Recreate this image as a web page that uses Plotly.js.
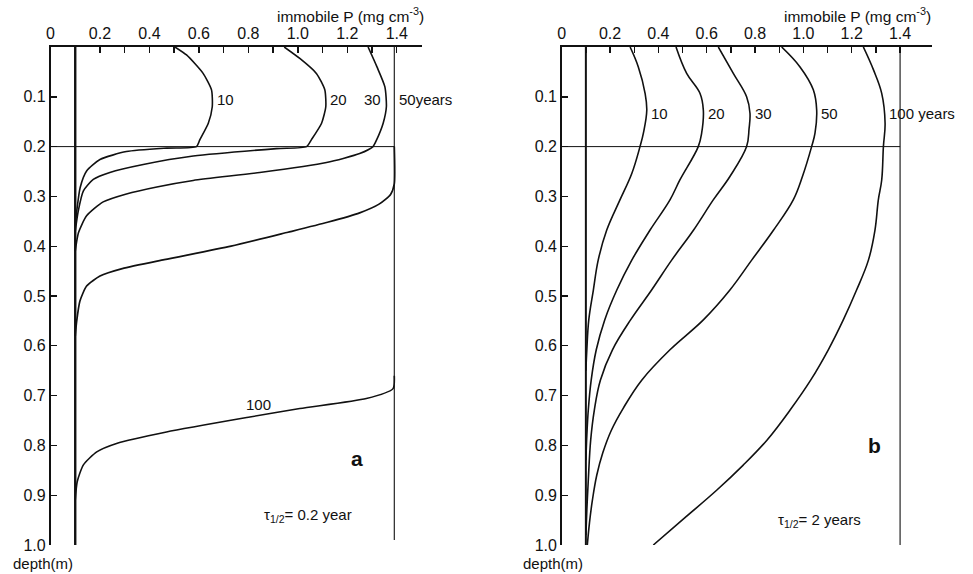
<!DOCTYPE html>
<html><head><meta charset="utf-8">
<script src="https://cdn.plot.ly/plotly-3.0.1.min.js"></script>
<style>html,body{margin:0;padding:0;background:#fff}#chart{width:973px;height:574px}</style>
</head><body><div id="chart"></div>
<script>
// ---- axis ticks ----
const xTickVals = [0,0.2,0.4,0.6,0.8,1.0,1.2,1.4];
const xTickText = ['0','0.2','0.4','0.6','0.8','1.0','1.2','1.4'];
const xMinorVals = [0.1,0.3,0.5,0.7,0.9,1.1,1.3];
const yTickVals = [0.1,0.2,0.3,0.4,0.5,0.6,0.7,0.8,0.9,1.0];
const yTickText = ['0.1','0.2','0.3','0.4','0.5','0.6','0.7','0.8','0.9','1.0'];

// ---- reference levels ----
const pInitial = 0.1;      // background immobile P
const pMaxA = 1.39;        // saturation, panel a
const pMaxB = 1.40;        // saturation, panel b
const plowDepth = 0.2;     // plough layer depth (m)

// ---- panel a : tau1/2 = 0.2 year ----
const a10P = [0.503,0.55,0.617,0.651,0.654,0.638,0.604,0.59,0.47,0.307,0.2,0.146,0.12,0.106,0.1];
const a10D = [0,0.016,0.053,0.086,0.12,0.153,0.186,0.2,0.203,0.21,0.226,0.249,0.282,0.33,0.36];
const a20P = [0.945,1.008,1.075,1.109,1.113,1.096,1.055,1.035,0.914,0.577,0.375,0.24,0.173,0.133,0.112,0.1];
const a20D = [0,0.023,0.053,0.086,0.12,0.153,0.186,0.2,0.204,0.219,0.236,0.252,0.266,0.289,0.33,0.37];
const a30P = [1.284,1.32,1.352,1.358,1.345,1.318,1.304,1.25,1.116,0.846,0.577,0.43,0.307,0.213,0.146,0.113,0.1];
const a30D = [0,0.04,0.08,0.12,0.153,0.187,0.2,0.214,0.232,0.252,0.268,0.281,0.295,0.311,0.339,0.373,0.41];
const a50P = [1.39,1.39,1.375,1.33,1.25,1.12,0.96,0.73,0.46,0.29,0.2,0.146,0.119,0.106,0.1];
const a50D = [0.2,0.275,0.296,0.315,0.333,0.352,0.372,0.4,0.427,0.445,0.46,0.48,0.51,0.55,0.58];
const a100P = [1.39,1.385,1.277,1.008,0.806,0.469,0.267,0.187,0.133,0.108,0.1];
const a100D = [0.66,0.686,0.706,0.726,0.743,0.773,0.796,0.813,0.839,0.873,0.91];

// ---- panel b : tau1/2 = 2 years ----
const b10P = [0.283,0.317,0.345,0.352,0.338,0.324,0.29,0.241,0.186,0.151,0.131,0.112,0.104,0.1];
const b10D = [0,0.04,0.093,0.127,0.173,0.2,0.254,0.307,0.368,0.428,0.488,0.548,0.608,0.65];
const b20P = [0.473,0.517,0.572,0.586,0.579,0.565,0.489,0.448,0.365,0.29,0.228,0.178,0.143,0.122,0.11,0.104,0.1];
const b20D = [0,0.053,0.093,0.127,0.173,0.2,0.267,0.307,0.368,0.428,0.488,0.548,0.608,0.669,0.729,0.78,0.83];
const b30P = [0.648,0.71,0.765,0.779,0.775,0.765,0.696,0.627,0.545,0.455,0.372,0.285,0.21,0.16,0.135,0.12,0.11,0.104,0.1];
const b30D = [0,0.053,0.1,0.133,0.165,0.2,0.26,0.307,0.368,0.428,0.488,0.548,0.608,0.669,0.729,0.789,0.87,0.93,0.98];
const b50P = [0.91,0.986,1.041,1.055,1.048,1.034,0.996,0.958,0.876,0.786,0.696,0.586,0.448,0.331,0.255,0.205,0.17,0.145,0.127,0.115,0.106];
const b50D = [0,0.04,0.086,0.127,0.173,0.2,0.26,0.307,0.368,0.428,0.488,0.548,0.608,0.669,0.725,0.77,0.815,0.86,0.91,0.955,1.0];
const b100P = [1.248,1.29,1.324,1.338,1.331,1.324,1.31,1.296,1.269,1.22,1.165,1.103,1.03,0.945,0.85,0.75,0.641,0.51,0.379];
const b100D = [0,0.046,0.093,0.153,0.2,0.267,0.307,0.368,0.428,0.488,0.548,0.608,0.669,0.729,0.789,0.84,0.89,0.945,1.0];

const INK = '#111';
const FONT = 'Liberation Sans, Arial, sans-serif';

function curve(x, y, xa, ya, w, sm) {
  return {x: x, y: y, xaxis: xa, yaxis: ya, mode: 'lines', type: 'scatter',
    line: {color: INK, width: w, shape: 'spline', smoothing: sm}, hoverinfo: 'skip', showlegend: false};
}
function straight(x, y, xa, ya, w) {
  return {x: x, y: y, xaxis: xa, yaxis: ya, mode: 'lines', type: 'scatter',
    line: {color: INK, width: w}, hoverinfo: 'skip', showlegend: false};
}

const traces = [
  // panel a frame lines
  straight([pInitial,pInitial],[0,1],'x','y',2.4),
  straight([pMaxA,pMaxA],[0,0.99],'x','y',1.1),
  straight([0,pMaxA],[plowDepth,plowDepth],'x','y',1),
  curve(a10P,a10D,'x','y',1.6,0.6),
  curve(a20P,a20D,'x','y',1.6,0.6),
  curve(a30P,a30D,'x','y',1.6,0.6),
  curve(a50P,a50D,'x','y',1.7,0.6),
  curve(a100P,a100D,'x','y',1.6,0.6),
  // panel b frame lines
  straight([pInitial,pInitial],[0,1],'x2','y2',2),
  straight([pMaxB,pMaxB],[0,1],'x2','y2',1.1),
  straight([0,pMaxB],[plowDepth,plowDepth],'x2','y2',1),
  curve(b10P,b10D,'x2','y2',1.6,1.1),
  curve(b20P,b20D,'x2','y2',1.6,1.1),
  curve(b30P,b30D,'x2','y2',1.6,1.1),
  curve(b50P,b50D,'x2','y2',1.6,1.1),
  curve(b100P,b100D,'x2','y2',1.6,1.1)
];

function xAxis(domain, range, anchor) {
  return {domain: domain, range: range, anchor: anchor, side: 'top', showline: true, linecolor: INK, linewidth: 1.6,
    showgrid: false, zeroline: false, ticks: 'inside', ticklen: 6, tickwidth: 1.4, tickcolor: INK,
    tickmode: 'array', tickvals: xTickVals, ticktext: xTickText, tickfont: {family: FONT, size: 16, color: INK},
    minor: {tickmode: 'array', tickvals: xMinorVals, ticks: 'inside', ticklen: 6, tickwidth: 1.4, tickcolor: INK, showgrid: false},
    fixedrange: true};
}
function yAxis(anchor) {
  return {domain: [1 - 545/574, 1 - 47/574], range: [1.0, 0], anchor: anchor, showline: true, linecolor: INK, linewidth: 1.6,
    showgrid: false, zeroline: false, ticks: 'inside', ticklen: 6, tickwidth: 1.4, tickcolor: INK,
    tickmode: 'array', tickvals: yTickVals, ticktext: yTickText, tickfont: {family: FONT, size: 16, color: INK},
    fixedrange: true};
}

function ann(text, xr, yr, x, y, xanchor, size, bold) {
  return {text: bold ? '<b>' + text + '</b>' : text, xref: xr, yref: yr, x: x, y: y, xanchor: xanchor, yanchor: 'middle',
    showarrow: false, font: {family: FONT, size: size, color: INK}};
}

const annotations = [
  // panel a
  ann('immobile P (mg cm<sup>-3</sup>)','paper','paper',426/973,1 - 15/574,'right',15.5),
  ann('10','x','y',0.665,0.106,'left',15),
  ann('20','x','y',1.122,0.106,'left',15),
  ann('30','x','y',1.345,0.106,'right',15),
  ann('50years','x','y',1.40,0.106,'left',15),
  ann('100','x','y',0.84,0.718,'center',15),
  ann('a','x','y',1.24,0.826,'center',21,true),
  ann('τ<sub>1/2</sub>= 0.2 year','x','y',1.04,0.94,'center',15),
  ann('depth(m)','paper','paper',43/973,1 - 563/574,'center',15),
  // panel b
  ann('immobile P (mg cm<sup>-3</sup>)','paper','paper',933/973,1 - 15/574,'right',15.5),
  ann('10','x2','y2',0.362,0.133,'left',15),
  ann('20','x2','y2',0.595,0.133,'left',15),
  ann('30','x2','y2',0.79,0.133,'left',15),
  ann('50','x2','y2',1.065,0.133,'left',15),
  ann('100 years','x2','y2',1.345,0.133,'left',15),
  ann('b','x2','y2',1.296,0.8,'center',21,true),
  ann('τ<sub>1/2</sub>= 2 years','x2','y2',1.065,0.95,'center',15),
  ann('depth(m)','paper','paper',553/973,1 - 563/574,'center',15)
];

const layout = {
  width: 973, height: 574, autosize: false,
  margin: {l: 0, r: 0, t: 0, b: 0, pad: 0},
  paper_bgcolor: '#fff', plot_bgcolor: '#fff',
  font: {family: FONT, color: INK},
  showlegend: false,
  xaxis: xAxis([50.5/973, 421.5/973], [0, 1.5], 'y'),
  yaxis: yAxis('x'),
  xaxis2: xAxis([561.7/973, 931.5/973], [0, 1.53], 'y2'),
  yaxis2: yAxis('x2'),
  annotations: annotations
};

Plotly.newPlot('chart', traces, layout, {staticPlot: true, displayModeBar: false});
</script>
</body></html>
